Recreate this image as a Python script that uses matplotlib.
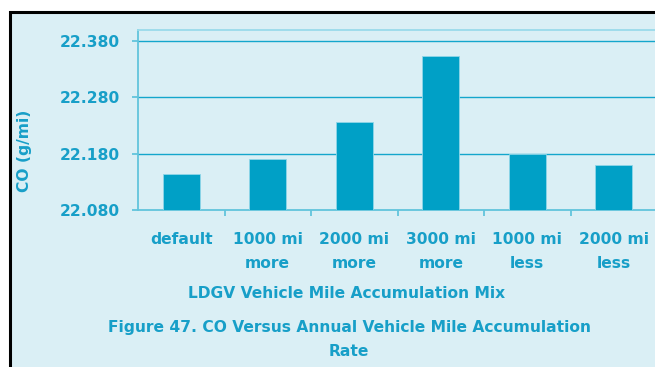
import numpy as np
import matplotlib.pyplot as plt
from matplotlib.patches import Rectangle
from matplotlib.ticker import FixedLocator

# CO emissions by vehicle mile accumulation mix
categories = ['default', '1000 mi\nmore', '2000 mi\nmore', '3000 mi\nmore',
              '1000 mi\nless', '2000 mi\nless']
co_values = [22.144, 22.170, 22.236, 22.353, 22.180, 22.160]
y_ticks = [22.080, 22.180, 22.280, 22.380]

bg = '#daeff5'
bar_color = '#00a0c6'
text_color = '#179fc8'
spine_color = '#62c4dc'
fs = 11.2

plt.rcParams['font.family'] = 'DejaVu Sans'
plt.rcParams['font.weight'] = 'bold'

fig = plt.figure(figsize=(6.55, 3.67), dpi=100)
fig.patch.set_facecolor('white')

# framed light-blue panel behind everything
W, H = 655, 367
panel = Rectangle((10 / W, -0.05), 1.0, 1 - 12 / H + 0.05, transform=fig.transFigure,
                  facecolor=bg, edgecolor='black', linewidth=2.2, zorder=-10)
fig.patches.append(panel)

ax = fig.add_axes([138 / W, 1 - 210 / H, 519 / W, 180 / H])
ax.set_facecolor(bg)

x = np.arange(len(categories))
ax.bar(x, co_values, width=0.43, color=bar_color, edgecolor='#8fd6e8',
       linewidth=0.6, zorder=3)

ax.set_xlim(-0.5, len(categories) - 0.5)
ax.set_ylim(22.080, 22.400)

ax.set_yticks(y_ticks)
ax.set_yticklabels([f'{v:.3f}' for v in y_ticks])
for v in y_ticks[1:]:
    ax.axhline(v, color='#14a6cc', linewidth=1.0, zorder=1)

ax.set_xticks(x)
ax.set_xticklabels(categories, linespacing=1.7)
ax.xaxis.set_minor_locator(FixedLocator(x[:-1] + 0.5))
ax.tick_params(axis='x', which='major', length=0, pad=16,
               labelsize=fs, labelcolor=text_color)
ax.tick_params(axis='x', which='minor', length=4.3, width=1.3, color=spine_color)
ax.tick_params(axis='y', length=4.3, width=1.3, color=spine_color, pad=8.6,
               labelsize=fs, labelcolor=text_color)

for side in ['left', 'bottom', 'top']:
    ax.spines[side].set_color(spine_color)
    ax.spines[side].set_linewidth(1.3)
ax.spines['top'].set_color('#9adbea')
ax.spines['right'].set_visible(False)

fig.text(25 / W, 1 - 151 / H, 'CO (g/mi)', rotation=90, ha='center', va='center',
         fontsize=fs, color=text_color)
fig.text(347 / W, 1 - 294 / H, 'LDGV Vehicle Mile Accumulation Mix',
         ha='center', va='center', fontsize=fs, color=text_color)
fig.text(349 / W, 1 - 339.5 / H,
         'Figure 47. CO Versus Annual Vehicle Mile Accumulation\nRate',
         ha='center', va='center', multialignment='center', linespacing=1.75,
         fontsize=fs, color=text_color)

fig.savefig('out.png', dpi=100, facecolor=fig.get_facecolor())
